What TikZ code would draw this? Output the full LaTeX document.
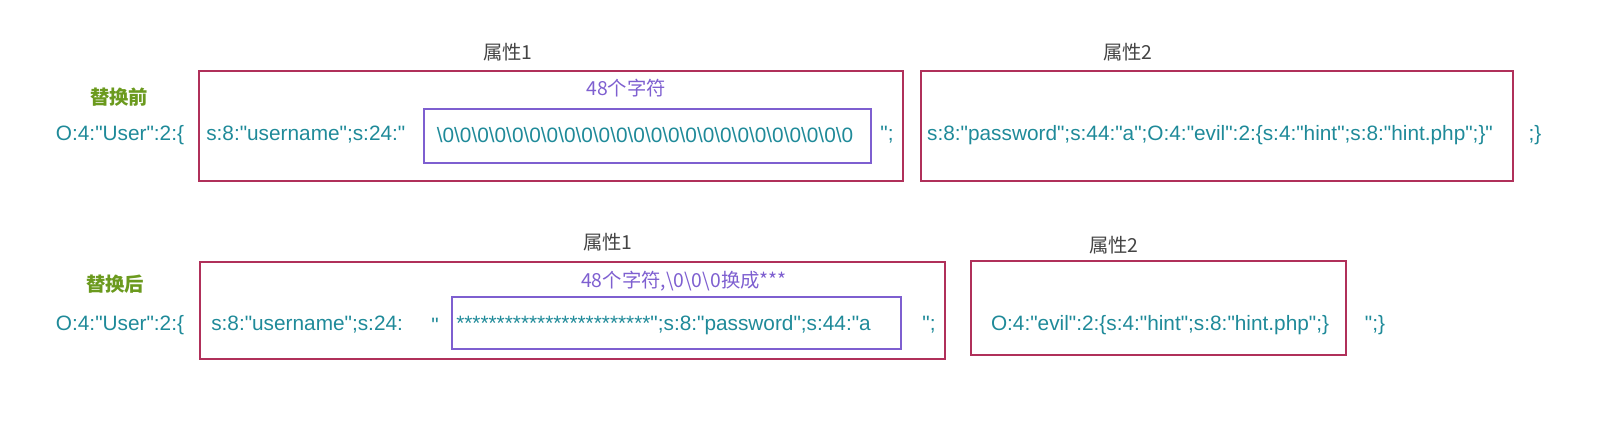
\documentclass[tikz,border=0pt]{standalone}
\usepackage{fontspec}
\setmainfont{Liberation Sans}[Ligatures=TeXOff]
\newfontfamily\cjk{Noto Sans CJK SC}[Ligatures=TeXOff]
\definecolor{tealc}{HTML}{1F8A99}
\definecolor{greenc}{HTML}{6B9A1E}
\definecolor{purplec}{HTML}{7E5FD0}
\definecolor{redc}{HTML}{B0305A}
\definecolor{grayc}{HTML}{444444}
\begin{document}
\begin{tikzpicture}[x=0.75pt,y=-0.75pt,
  txt/.style={text=tealc,font=\fontsize{15.6}{18}\selectfont,inner sep=0},
  lbl/.style={text=grayc,font=\cjk\fontsize{14.5}{17}\selectfont,inner sep=0},
  grn/.style={text=greenc,font=\cjk\bfseries\fontsize{14.5}{17}\selectfont,inner sep=0},
  pur/.style={text=purplec,font=\cjk\fontsize{14.5}{17}\selectfont,inner sep=0},
  obox/.style={draw=redc,line width=0.9pt},
  ibox/.style={draw=purplec,line width=0.9pt}]
\useasboundingbox (0,0) rectangle (1624,424);
% top
\draw[obox] (199,71) rectangle (903,181);
\draw[ibox] (424,109) rectangle (871,163);
\draw[obox] (921,71) rectangle (1513,181);
\node[lbl] (a1) at (508,52) {属性1};
\node[lbl] (a2) at (1128,52) {属性2};
\node[grn] (b1) at (119,97) {替换前};
\node[txt] (o1) at (120,135) {O:4:"User":2:\{};
\node[pur] (c1) at (626,88) {48个字符};
\node[txt,anchor=west] (t1) at (206,135) {s:8:"username";s:24:"};
\node[txt] (t2) at (645,135) {\textbackslash 0\textbackslash 0\textbackslash 0\textbackslash 0\textbackslash 0\textbackslash 0\textbackslash 0\textbackslash 0\textbackslash 0\textbackslash 0\textbackslash 0\textbackslash 0\textbackslash 0\textbackslash 0\textbackslash 0\textbackslash 0\textbackslash 0\textbackslash 0\textbackslash 0\textbackslash 0\textbackslash 0\textbackslash 0\textbackslash 0\textbackslash 0};
\node[txt] (t3) at (887,135) {";};
\node[txt] (t4) at (1210,135) {s:8:"password";s:44:"a";O:4:"evil":2:\{s:4:"hint";s:8:"hint.php";\}"};
\node[txt] (t5) at (1535,135) {;\}};
% bottom
\draw[obox] (200,262) rectangle (945,359);
\draw[ibox] (452,297) rectangle (901,349);
\draw[obox] (971,261) rectangle (1346,355);
\node[lbl] (a3) at (608,242) {属性1};
\node[lbl] (a4) at (1114,245) {属性2};
\node[grn] (b2) at (115,284) {替换后};
\node[txt] (o2) at (120,325) {O:4:"User":2:\{};
\node[pur] (c2) at (684,281) {48个字符,\textbackslash 0\textbackslash 0\textbackslash 0换成***};
\node[txt,anchor=west] (u1) at (211,325) {s:8:"username";s:24:};
\node[txt] (u2) at (435,325) {"};
\node[txt,anchor=west] (u3) at (456,325) {************************";s:8:"password";s:44:"a};
\node[txt] (u4) at (929,325) {";};
\node[txt] (u5) at (1160,325) {O:4:"evil":2:\{s:4:"hint";s:8:"hint.php";\}};
\node[txt] (u6) at (1375,325) {";\}};
\end{tikzpicture}
\end{document}
